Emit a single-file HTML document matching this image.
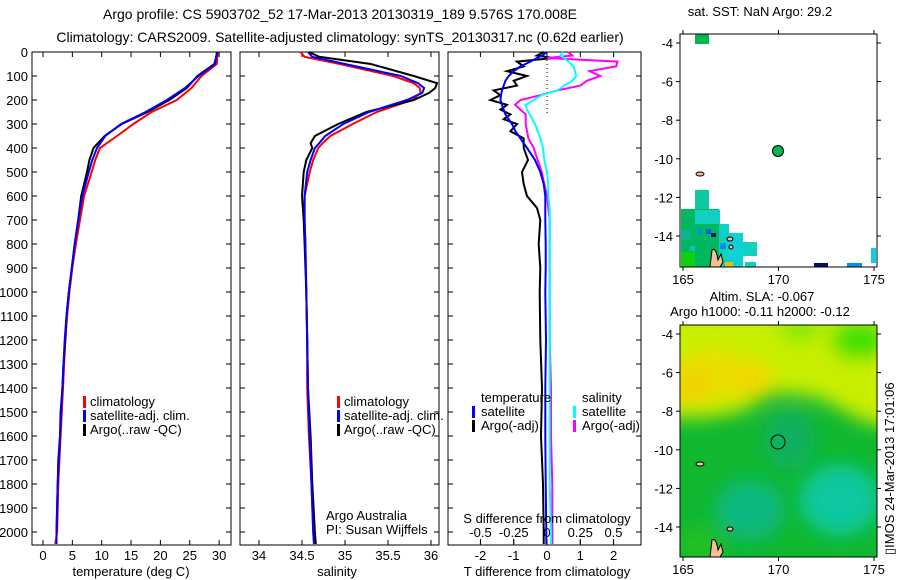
<!DOCTYPE html>
<html><head><meta charset="utf-8"><style>
body{margin:0;background:#fff}
svg{display:block;font-family:"Liberation Sans",sans-serif}
text{fill:#000}
</style></head><body>
<svg id="s" width="900" height="580" viewBox="0 0 900 580" xmlns="http://www.w3.org/2000/svg">
<defs>
<filter id="bl" x="-50%" y="-50%" width="200%" height="200%"><feGaussianBlur stdDeviation="9"/></filter>
<clipPath id="m2c"><rect x="680" y="325" width="197" height="232"/></clipPath>
</defs>
<text x="340" y="19" font-size="14" text-anchor="middle">Argo profile: CS 5903702_52 17-Mar-2013 20130319_189 9.576S 170.008E</text>
<text x="340" y="42" font-size="14" text-anchor="middle">Climatology: CARS2009. Satellite-adjusted climatology: synTS_20130317.nc (0.62d earlier)</text>

<g id="p1"></g>
<g id="p2"></g>
<g id="p3"></g>

<g font-size="13">
<rect x="83" y="396" width="3" height="12" fill="#f00"/><text x="90" y="406">climatology</text>
<rect x="83" y="410" width="3" height="12" fill="#00f"/><text x="90" y="420">satellite-adj. clim.</text>
<rect x="83" y="424" width="3" height="12" fill="#000"/><text x="90" y="434">Argo(..raw -QC)</text>
</g>
<g font-size="13">
<rect x="337" y="396" width="3" height="12" fill="#f00"/><text x="344" y="406">climatology</text>
<rect x="337" y="410" width="3" height="12" fill="#00f"/><text x="344" y="420">satellite-adj. clim.</text>
<rect x="337" y="424" width="3" height="12" fill="#000"/><text x="344" y="434">Argo(..raw -QC)</text>
<text x="326" y="520">Argo Australia</text>
<text x="326" y="534">PI: Susan Wijffels</text>
</g>
<g font-size="13">
<text x="481" y="402">temperature</text>
<rect x="472" y="406" width="3" height="12" fill="#00f"/><text x="481" y="416">satellite</text>
<rect x="472" y="420" width="3" height="12" fill="#000"/><text x="481" y="430">Argo(-adj)</text>
<text x="582" y="402">salinity</text>
<rect x="573" y="406" width="3" height="12" fill="#0ff"/><text x="582" y="416">satellite</text>
<rect x="573" y="420" width="3" height="12" fill="#f0f"/><text x="582" y="430">Argo(-adj)</text>
</g>

<g>
<text x="760" y="16" font-size="13" text-anchor="middle">sat. SST: NaN Argo: 29.2</text>
<rect x="680" y="34" width="197" height="233" fill="#fff"/>
<rect x="695" y="34" width="14" height="10" fill="#00b850"/>
<rect x="695" y="190" width="14" height="20" fill="#10c8a0"/>
<rect x="681" y="209" width="38" height="58" fill="#00b860"/>
<rect x="695" y="210" width="25" height="14" fill="#10d0c0"/>
<rect x="719" y="224" width="10" height="43" fill="#10d0c0"/>
<rect x="729" y="233" width="14" height="34" fill="#10d0d8"/>
<rect x="743" y="242" width="14" height="14" fill="#10d0c0"/>
<rect x="681" y="230" width="10" height="10" fill="#10b090"/>
<rect x="697" y="229" width="5" height="5" fill="#0090f0"/>
<rect x="706" y="229" width="5" height="5" fill="#0060e0"/>
<rect x="711" y="233" width="5" height="4" fill="#001070"/>
<rect x="681" y="252" width="14" height="15" fill="#10d010"/>
<rect x="690" y="246" width="5" height="5" fill="#10c0c0"/>
<rect x="720" y="243" width="6" height="6" fill="#0090f0"/>
<rect x="725" y="262" width="8" height="5" fill="#f0c000"/>
<rect x="745" y="262" width="11" height="5" fill="#10d0c0"/>
<rect x="814" y="263" width="14" height="4" fill="#001070"/>
<rect x="847" y="263" width="15" height="4" fill="#0090f0"/>
<rect x="871" y="248" width="5" height="15" fill="#10d0e0"/>
<path d="M712 250 q4 -3 6 10 l3 -6 l2 8 l-3 5 h-10 z" fill="#f5c090" stroke="#000" stroke-width="1"/>
<ellipse cx="700" cy="174" rx="4" ry="2" fill="#f5c090" stroke="#000"/>
<ellipse cx="730" cy="239" rx="3" ry="2" fill="#f5c090" stroke="#000"/>
<ellipse cx="731" cy="247" rx="2" ry="2" fill="#f5c090" stroke="#000"/>
<circle cx="778" cy="151" r="5.5" fill="#00b850" stroke="#000" stroke-width="1"/>
<rect x="680" y="34" width="197" height="233" fill="none" stroke="#000"/>
<g id="m1ticks"></g>
</g>

<g>
<text x="762" y="301" font-size="13" text-anchor="middle">Altim. SLA: -0.067</text>
<text x="760" y="316" font-size="13" text-anchor="middle">Argo h1000: -0.11 h2000: -0.12</text>
<g clip-path="url(#m2c)">
<rect x="680" y="325" width="197" height="232" fill="#10b830"/>
<g filter="url(#bl)">
<path d="M660 310 H900 V430 Q870 425 850 415 Q820 395 800 395 Q770 388 750 408 Q720 420 680 418 H660 Z" fill="#c8ee00"/>
<ellipse cx="715" cy="375" rx="40" ry="25" fill="#e8e000"/>
<ellipse cx="690" cy="385" rx="25" ry="20" fill="#f0d400"/>
<ellipse cx="752" cy="380" rx="22" ry="18" fill="#f0d800"/>
<ellipse cx="860" cy="340" rx="30" ry="20" fill="#40e000"/>
<ellipse cx="800" cy="330" rx="20" ry="10" fill="#70e800"/>
<ellipse cx="840" cy="500" rx="40" ry="35" fill="#10c8a0"/>
<ellipse cx="750" cy="510" rx="35" ry="30" fill="#10b880"/>
<ellipse cx="790" cy="440" rx="25" ry="30" fill="#10b060"/>
<ellipse cx="700" cy="545" rx="25" ry="18" fill="#20c020"/>
</g>
</g>
<path d="M712 540 q4 -3 6 10 l3 -6 l2 8 l-3 5 h-10 z" fill="#f5c090" stroke="#000" stroke-width="1"/>
<ellipse cx="700" cy="464" rx="4" ry="2" fill="#f5c090" stroke="#000"/>
<ellipse cx="730" cy="529" rx="3" ry="2" fill="#f5c090" stroke="#000"/>
<circle cx="778" cy="442" r="7" fill="none" stroke="#000" stroke-width="1"/>
<rect x="680" y="325" width="197" height="232" fill="none" stroke="#000"/>
<g id="m2ticks"></g>
<text transform="translate(894,555) rotate(-90)" font-size="13">▯IMOS 24-Mar-2013 17:01:06</text>
</g>
</svg>
<script>
const tDepth=[0,20,50,100,150,200,250,300,350,400,450,500,600,700,800,900,1000,1100,1200,1300,1400,1500,1600,1700,1800,1900,2000,2050];
const tClim=[29.8,29.7,29.6,27.0,25.3,22.8,18.5,15.4,12.6,9.7,8.9,8.3,7.0,6.3,5.6,5.0,4.5,4.1,3.8,3.6,3.4,3.2,3.0,2.8,2.6,2.5,2.4,2.1];
const tSat=[29.6,29.5,29.3,26.5,24.2,21.1,17.5,13.3,10.6,9.2,8.4,7.8,6.7,6.0,5.4,4.9,4.4,4.0,3.7,3.5,3.3,3.1,2.9,2.7,2.5,2.4,2.3,2.3];
const tArgo=[29.7,29.5,29.2,26.3,24.5,21.5,17.8,13.4,10.5,8.6,7.9,7.5,6.5,6.0,5.4,4.9,4.4,4.0,3.8,3.5,3.3,3.0,2.9,2.6,2.5,2.4,2.3,2.3];
const sDepth=[0,20,50,100,130,150,170,200,250,300,350,380,400,450,500,600,700,800,1000,1200,1400,1600,1800,2000,2050];
const sClim=[34.48,34.53,34.94,35.56,35.80,35.87,35.88,35.78,35.37,35.09,34.83,34.74,34.69,34.63,34.59,34.53,34.53,34.54,34.55,34.56,34.56,34.58,34.61,34.63,34.64];
const sSat=[34.57,34.62,35.0,35.65,35.85,35.92,35.9,35.72,35.28,34.98,34.77,34.70,34.65,34.60,34.56,34.53,34.53,34.54,34.55,34.56,34.57,34.59,34.61,34.63,34.64];
const sArgo=[34.58,34.70,35.30,35.80,36.07,36.05,35.98,35.80,35.25,34.92,34.65,34.60,34.62,34.55,34.52,34.50,34.52,34.53,34.55,34.56,34.57,34.60,34.62,34.65,34.66];
const dDepth=[0,15,25,40,60,80,100,120,140,160,180,200,220,240,260,280,300,330,360,400,450,500,550,600,650,700,800,900,1000,1200,1400,1600,1800,2000,2050];
const dTSat=[0,-0.15,-0.3,-0.5,-0.8,-1.0,-1.15,-1.25,-1.3,-1.35,-1.38,-1.4,-1.35,-1.3,-1.25,-1.15,-1.05,-0.95,-0.8,-0.6,-0.36,-0.2,-0.1,-0.05,-0.05,-0.05,-0.04,-0.04,-0.05,-0.03,-0.05,-0.05,-0.04,-0.02,-0.02];
const dTArgo=[-0.1,-0.3,0.2,-0.9,-0.7,-1.2,-0.6,-1.0,-0.9,-1.6,-1.4,-1.7,-1.2,-1.4,-1.1,-1.3,-0.9,-1.1,-0.7,-0.7,-0.57,-0.75,-0.7,-0.6,-0.3,-0.2,-0.25,-0.2,-0.22,-0.2,-0.15,-0.18,-0.12,-0.1,-0.1];
const dSSat=[0.12,0.1,0.13,0.16,0.2,0.21,0.22,0.19,0.13,0.08,-0.04,-0.1,-0.16,-0.15,-0.13,-0.11,-0.09,-0.07,-0.05,-0.03,-0.02,0,0.01,0.01,0.02,0.02,0.02,0.02,0.02,0.02,0.02,0.02,0.02,0.03,0.03];
const dSArgo=[0.16,0.19,0,0.53,0.52,0.32,0.4,0.3,0.25,0.08,-0.05,-0.2,-0.24,-0.2,-0.16,-0.16,-0.16,-0.15,-0.14,-0.1,-0.07,-0.04,-0.02,0,0.01,0.02,0.02,0.02,0.02,0.02,0.03,0.03,0.04,0.04,0.04];
const depthTicks=[0,100,200,300,400,500,600,700,800,900,1000,1100,1200,1300,1400,1500,1600,1700,1800,1900,2000];
const tTicks=[0,5,10,15,20,25,30];
const sTicks=[34,34.5,35,35.5,36];
const sTickLabels=["34","34.5","35","35.5","36"];
const dtTicks=[-2,-1,0,1,2];
const dsTicks=[-0.5,-0.25,0,0.25,0.5];
const dsTickLabels=["-0.5","-0.25","0","0.25","0.5"];
const lonTicks=[165,170,175];
const latTicks=[-4,-6,-8,-10,-12,-14];

const NS="http://www.w3.org/2000/svg";
function mk(tag,attrs,parent,txt){const e=document.createElementNS(NS,tag);for(const k in attrs)e.setAttribute(k,attrs[k]);if(txt!==undefined)e.textContent=txt;parent.appendChild(e);return e;}
const yTop=52,yBot=545;
const yD=d=>52+0.24*d;

function panel(g,x0,x1,xfn,ticks,labels,showDepth,name){
  const r=mk('rect',{x:x0,y:yTop,width:x1-x0,height:yBot-yTop,fill:'none',stroke:'#000'},g);
  
  
  depthTicks.forEach(d=>{
    const y=yD(d);
    mk('line',{x1:x0,x2:x0+5,y1:y,y2:y,stroke:'#000'},g);
    mk('line',{x1:x1-5,x2:x1,y1:y,y2:y,stroke:'#000'},g);
    if(showDepth){const t=mk('text',{x:x0-4,y:y+5,'font-size':13,'text-anchor':'end'},g,String(d));
      
      }
  });
  ticks.forEach((v,i)=>{
    const x=xfn(v);
    mk('line',{x1:x,x2:x,y1:yBot,y2:yBot-5,stroke:'#000'},g);
    mk('line',{x1:x,x2:x,y1:yTop,y2:yTop+5,stroke:'#000'},g);
    const t=mk('text',{x:x,y:yBot+15,'font-size':13,'text-anchor':'middle'},g,labels[i]);
    
    
  });
}
function line(g,xs,ds,xfn,col,name,w){
  const d=xs.map((v,i)=>(i?'L':'M')+xfn(v).toFixed(1)+' '+yD(ds[i]).toFixed(1)).join(' ');
  const p=mk('path',{d:d,fill:'none',stroke:col,'stroke-width':w||2},g);
  
  
}
const p1=document.getElementById('p1');
const xT=t=>43+5.87*t;
panel(p1,32,231,xT,tTicks,tTicks.map(String),true,'temperature');
line(p1,tClim,tDepth,xT,'#f00','temp-climatology-line');
line(p1,tArgo,tDepth,xT,'#000','temp-argo-line');
line(p1,tSat,tDepth,xT,'#00f','temp-satellite-line');
let t=mk('text',{x:131,y:576,'font-size':13,'text-anchor':'middle'},p1,'temperature (deg C)');


const p2=document.getElementById('p2');
const xS=s=>259+86*(s-34);
panel(p2,240,439,xS,sTicks,sTickLabels,false,'salinity');
line(p2,sClim,sDepth,xS,'#f00','sal-climatology-line');
line(p2,sArgo,sDepth,xS,'#000','sal-argo-line');
line(p2,sSat,sDepth,xS,'#00f','sal-satellite-line');
t=mk('text',{x:337,y:576,'font-size':13,'text-anchor':'middle'},p2,'salinity');


const p3=document.getElementById('p3');
const xDT=v=>547+33.3*v, xDS=v=>547+133*v;
panel(p3,448,641,xDT,dtTicks,dtTicks.map(String),false,'t-difference');
dsTicks.forEach((v,i)=>{
  const tt=mk('text',{x:xDS(v),y:537,'font-size':13,'text-anchor':'middle'},p3,dsTickLabels[i]);
  
  
  mk('line',{x1:xDS(v),x2:xDS(v),y1:539,y2:544,stroke:'#000'},p3);
});
mk('line',{x1:547,x2:547,y1:yTop,y2:yD(260),stroke:'#000','stroke-dasharray':'1,3'},p3);
line(p3,dTArgo,dDepth,xDT,'#000','t-diff-argo-line');
line(p3,dSArgo,dDepth,xDS,'#f0f','s-diff-argo-line');
line(p3,dSSat,dDepth,xDS,'#0ff','s-diff-satellite-line');
line(p3,dTSat,dDepth,xDT,'#00f','t-diff-satellite-line');
t=mk('text',{x:547,y:523,'font-size':13,'text-anchor':'middle'},p3,'S difference from climatology');


t=mk('text',{x:547,y:576,'font-size':13,'text-anchor':'middle'},p3,'T difference from climatology');


function mapTicks(id,y0,y1,lat4){
  const g=document.getElementById(id);
  lonTicks.forEach(v=>{const x=683+19.1*(v-165);
    mk('line',{x1:x,x2:x,y1:y1,y2:y1+4,stroke:'#000'},g);
    mk('line',{x1:x,x2:x,y1:y0,y2:y0-4,stroke:'#000'},g);
    const tt=mk('text',{x:x,y:y1+17,'font-size':13,'text-anchor':'middle'},g,String(v));
    
    });
  latTicks.forEach(v=>{const y=lat4+19.3*(-4-v);
    mk('line',{x1:676,x2:680,y1:y,y2:y,stroke:'#000'},g);
    mk('line',{x1:877,x2:881,y1:y,y2:y,stroke:'#000'},g);
    const tt=mk('text',{x:673,y:y+5,'font-size':13,'text-anchor':'end'},g,String(v));
    
    });
}
mapTicks('m1ticks',34,267,43);
mapTicks('m2ticks',325,557,334);
</script>
</body></html>
